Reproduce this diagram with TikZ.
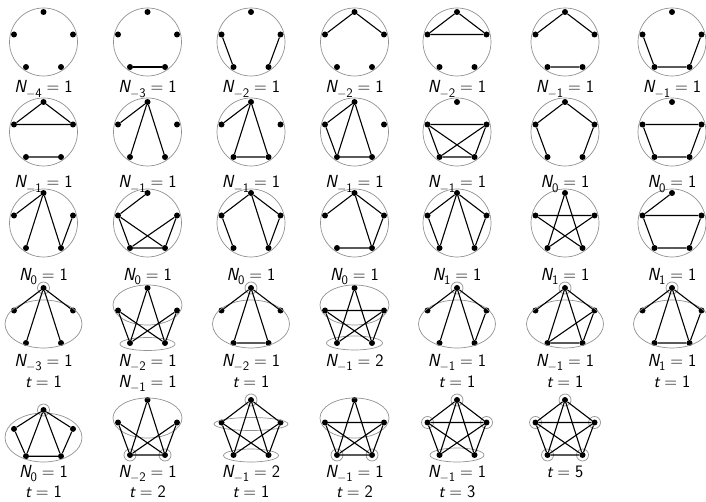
\documentclass[tikz,border=0pt]{standalone}
\usepackage{tikz}
\definecolor{ringgray}{HTML}{929292}
\newcommand{\Nv}[2]{{\itshape N}\raisebox{-.26em}[0pt][0pt]{\fontsize{13}{15}\selectfont#1}\hspace{.28em}=\hspace{.28em}#2}
\newcommand{\tv}[1]{{\itshape t}\hspace{.28em}=\hspace{.28em}#1}
\newcommand{\mn}{$-$}
\newcommand{\pent}[4]{%
\node[vtx] (#1t) at (#2,#3) {};
\node[vtx] (#1l) at ({#2-29.5},{#3+22.5*#4}) {};
\node[vtx] (#1r) at ({#2+29.5},{#3+22.5*#4}) {};
\node[vtx] (#1bl) at ({#2-17.5},{#3+55*#4}) {};
\node[vtx] (#1br) at ({#2+17.5},{#3+55*#4}) {};}

\begin{document}
\begin{tikzpicture}[x=1pt,y=-1pt,vtx/.style={circle,fill=black,inner sep=0pt,minimum size=6pt},link/.style={line width=1.1pt,draw=black},ring/.style={draw=ringgray,line width=0.7pt},lbl/.style={font=\sffamily\fontsize{17.5}{20}\selectfont,anchor=base,inner sep=0pt}]
\useasboundingbox (0,0) rectangle (706,502);
\foreach \x in {43.5,147.5,251,354.5,457,565,672} \foreach \y in {42,132,223} \draw[ring] (\x,\y) circle (34pt);
\pent{a1}{43.5}{12}{1}\pent{a2}{147.5}{12}{1}\pent{a3}{251}{12}{1}\pent{a4}{354.5}{12}{1}\pent{a5}{457}{12}{1}\pent{a6}{565}{12}{1}\pent{a7}{672}{12}{1}
\pent{b1}{43.5}{102}{1}\pent{b2}{147.5}{102}{1}\pent{b3}{251}{102}{1}\pent{b4}{354.5}{102}{1}\pent{b5}{457}{102}{1}\pent{b6}{565}{102}{1}\pent{b7}{672}{102}{1}
\pent{c1}{43.5}{193}{1}\pent{c2}{147.5}{193}{1}\pent{c3}{251}{193}{1}\pent{c4}{354.5}{193}{1}\pent{c5}{457}{193}{1}\pent{c6}{565}{193}{1}\pent{c7}{672}{193}{1}
\pent{d1}{43.5}{288}{1}\pent{d2}{147.5}{288}{1}\pent{d3}{251}{288}{1}\pent{d4}{354.5}{288}{1}\pent{d5}{457}{288}{1}\pent{d6}{565}{288}{1}\pent{d7}{672}{288}{1}
\pent{e1}{43.5}{410}{0.84}\pent{e2}{147.5}{400}{1}\pent{e3}{251}{400}{1}\pent{e4}{354.5}{400}{1}\pent{e5}{457}{400}{1}\pent{e6}{565}{400}{1}
\draw[link] (a2bl)--(a2br);
\draw[link] (a3l)--(a3bl) (a3r)--(a3br);
\draw[link] (a4l)--(a4t)--(a4r);
\draw[link] (a5t)--(a5l)--(a5r)--(a5t);
\draw[link] (a6l)--(a6t)--(a6r) (a6bl)--(a6br);
\draw[link] (a7l)--(a7bl)--(a7br)--(a7r);
\draw[link] (b1t)--(b1l)--(b1r)--(b1t) (b1bl)--(b1br);
\draw[link] (b2t)--(b2l) (b2t)--(b2bl) (b2t)--(b2br);
\draw[link] (b3t)--(b3l) (b3t)--(b3bl)--(b3br)--(b3t);
\draw[link] (b4t)--(b4l)--(b4bl)--(b4t)--(b4br)--(b4bl);
\draw[link] (b5l)--(b5r)--(b5br)--(b5bl)--(b5l)--(b5br) (b5r)--(b5bl);
\draw[link] (b6bl)--(b6l)--(b6t)--(b6r)--(b6br);
\draw[link] (b7r)--(b7l)--(b7bl)--(b7br)--(b7r);
\draw[link] (c1l)--(c1t)--(c1bl) (c1t)--(c1br)--(c1r);
\draw[link] (c2t)--(c2l)--(c2bl)--(c2br)--(c2r)--(c2bl) (c2l)--(c2br);
\draw[link] (c3bl)--(c3l)--(c3t)--(c3r)--(c3br)--(c3t);
\draw[link] (c4l)--(c4t)--(c4r)--(c4br)--(c4bl) (c4t)--(c4br);
\draw[link] (c5t)--(c5l)--(c5bl)--(c5t)--(c5br)--(c5r)--(c5t);
\draw[link] (c6t)--(c6bl)--(c6r)--(c6l)--(c6br)--(c6t);
\draw[link] (c7t)--(c7l)--(c7r)--(c7br)--(c7bl)--(c7l);
\draw[ring] (43.5,324) ellipse (38.5pt and 24pt) (d1t) circle (6pt);
\draw[ring] (147.5,305) ellipse (34.5pt and 20pt) (147.5,344) ellipse (27.5pt and 6.5pt);
\draw[ring] (251,324) ellipse (38.5pt and 24pt) (d3t) circle (6pt);
\draw[ring] (354.5,305) ellipse (34.5pt and 20pt) (354.5,343) ellipse (28pt and 7pt);
\draw[ring] (457,324) ellipse (38.5pt and 24pt) (d5t) circle (6pt);
\draw[ring] (565,324) ellipse (38.5pt and 24pt) (d6t) circle (6pt);
\draw[ring] (672,324) ellipse (38.5pt and 24pt) (d7t) circle (6pt);
\draw[link] (d1t)--(d1l) (d1t)--(d1r) (d1t)--(d1bl) (d1t)--(d1br);
\draw[link] (d2t)--(d2bl) (d2t)--(d2br) (d2l)--(d2bl) (d2l)--(d2br) (d2r)--(d2bl) (d2r)--(d2br);
\draw[link] (d3t)--(d3l) (d3t)--(d3r) (d3t)--(d3bl)--(d3br)--(d3t);
\draw[link] (d4l)--(d4r) (d4t)--(d4bl) (d4t)--(d4br) (d4l)--(d4bl) (d4l)--(d4br) (d4r)--(d4bl) (d4r)--(d4br);
\draw[link] (d5t)--(d5l) (d5t)--(d5bl) (d5t)--(d5br) (d5t)--(d5r)--(d5br);
\draw[link] (d6t)--(d6l) (d6t)--(d6bl) (d6t)--(d6br) (d6t)--(d6r)--(d6br)--(d6bl)--(d6r);
\draw[link] (d7t)--(d7l) (d7t)--(d7bl) (d7t)--(d7br) (d7t)--(d7r)--(d7br)--(d7bl);
\draw[ring] (43.5,437.5) ellipse (38.5pt and 24.5pt) (e1t) circle (6pt);
\draw[ring] (147.5,418) ellipse (34.5pt and 20pt) (e2bl) circle (6pt) (e2br) circle (6pt);
\draw[ring] (e3t) circle (6pt) (251,424) ellipse (37pt and 6.5pt) (251,455.5) ellipse (27.5pt and 6.5pt);
\draw[ring] (354.5,418) ellipse (34.5pt and 20pt) (e4bl) circle (6pt) (e4br) circle (6pt);
\draw[ring] (e5t) circle (6pt) (e5l) circle (6pt) (e5r) circle (6pt) (457,455) ellipse (27pt and 7pt);
\draw[ring] (e6t) circle (6pt) (e6l) circle (6pt) (e6r) circle (6pt) (e6bl) circle (6pt) (e6br) circle (6pt);
\draw[link] (e1t)--(e1l)--(e1bl)--(e1br)--(e1r)--(e1t) (e1t)--(e1bl) (e1t)--(e1br);
\draw[link] (e2t)--(e2bl) (e2t)--(e2br) (e2l)--(e2bl) (e2l)--(e2br) (e2r)--(e2bl) (e2r)--(e2br) (e2bl)--(e2br);
\draw[link] (e3t)--(e3l) (e3t)--(e3r) (e3t)--(e3bl) (e3t)--(e3br) (e3l)--(e3bl) (e3l)--(e3br) (e3r)--(e3bl) (e3r)--(e3br);
\draw[link] (e4t)--(e4bl) (e4t)--(e4br) (e4l)--(e4r) (e4l)--(e4bl) (e4l)--(e4br) (e4r)--(e4bl) (e4r)--(e4br) (e4bl)--(e4br);
\draw[link] (e5t)--(e5l) (e5t)--(e5r) (e5t)--(e5bl) (e5t)--(e5br) (e5l)--(e5r) (e5l)--(e5bl) (e5l)--(e5br) (e5r)--(e5bl) (e5r)--(e5br);
\draw[link] (e6t)--(e6l) (e6t)--(e6r) (e6t)--(e6bl) (e6t)--(e6br) (e6l)--(e6r) (e6l)--(e6bl) (e6l)--(e6br) (e6r)--(e6bl) (e6r)--(e6br) (e6bl)--(e6br);
\node[lbl] (la1) at (43.5,93) {\Nv{\mn4}{1}};\node[lbl] (la2) at (147.5,93) {\Nv{\mn3}{1}};\node[lbl] (la3) at (251,93) {\Nv{\mn2}{1}};\node[lbl] (la4) at (354.5,93) {\Nv{\mn2}{1}};
\node[lbl] (la5) at (457,93) {\Nv{\mn2}{1}};\node[lbl] (la6) at (565,93) {\Nv{\mn1}{1}};\node[lbl] (la7) at (672,93) {\Nv{\mn1}{1}};
\node[lbl] (lb1) at (43.5,188) {\Nv{\mn1}{1}};\node[lbl] (lb2) at (147.5,188) {\Nv{\mn1}{1}};\node[lbl] (lb3) at (251,188) {\Nv{\mn1}{1}};\node[lbl] (lb4) at (354.5,188) {\Nv{\mn1}{1}};
\node[lbl] (lb5) at (457,188) {\Nv{\mn1}{1}};\node[lbl] (lb6) at (565,188) {\Nv{0}{1}};\node[lbl] (lb7) at (672,188) {\Nv{0}{1}};
\node[lbl] (lc1) at (43.5,280) {\Nv{0}{1}};\node[lbl] (lc2) at (147.5,280) {\Nv{0}{1}};\node[lbl] (lc3) at (251,280) {\Nv{0}{1}};\node[lbl] (lc4) at (354.5,280) {\Nv{0}{1}};
\node[lbl] (lc5) at (457,280) {\Nv{1}{1}};\node[lbl] (lc6) at (565,280) {\Nv{1}{1}};\node[lbl] (lc7) at (672,280) {\Nv{1}{1}};
\node[lbl] (ld1) at (43.5,366) {\Nv{\mn3}{1}};\node[lbl] (ld2) at (147.5,366) {\Nv{\mn2}{1}};\node[lbl] (ld3) at (251,366) {\Nv{\mn2}{1}};\node[lbl] (ld4) at (354.5,366) {\Nv{\mn1}{2}};
\node[lbl] (ld5) at (457,366) {\Nv{\mn1}{1}};\node[lbl] (ld6) at (565,366) {\Nv{\mn1}{1}};\node[lbl] (ld7) at (672,366) {\Nv{1}{1}};
\node[lbl] (md1) at (43.5,387) {\tv{1}};\node[lbl] (md2) at (147.5,387) {\Nv{\mn1}{1}};\node[lbl] (md3) at (251,387) {\tv{1}};
\node[lbl] (md5) at (457,387) {\tv{1}};\node[lbl] (md6) at (565,387) {\tv{1}};\node[lbl] (md7) at (672,387) {\tv{1}};
\node[lbl] (le1) at (43.5,477) {\Nv{0}{1}};\node[lbl] (le2) at (147.5,477) {\Nv{\mn2}{1}};\node[lbl] (le3) at (251,477) {\Nv{\mn1}{2}};\node[lbl] (le4) at (354.5,477) {\Nv{\mn1}{1}};
\node[lbl] (le5) at (457,477) {\Nv{\mn1}{1}};\node[lbl] (le6) at (565,477) {\tv{5}};
\node[lbl] (me1) at (43.5,497) {\tv{1}};\node[lbl] (me2) at (147.5,497) {\tv{2}};\node[lbl] (me3) at (251,497) {\tv{1}};\node[lbl] (me4) at (354.5,497) {\tv{2}};\node[lbl] (me5) at (457,497) {\tv{3}};
\end{tikzpicture}
\end{document}
